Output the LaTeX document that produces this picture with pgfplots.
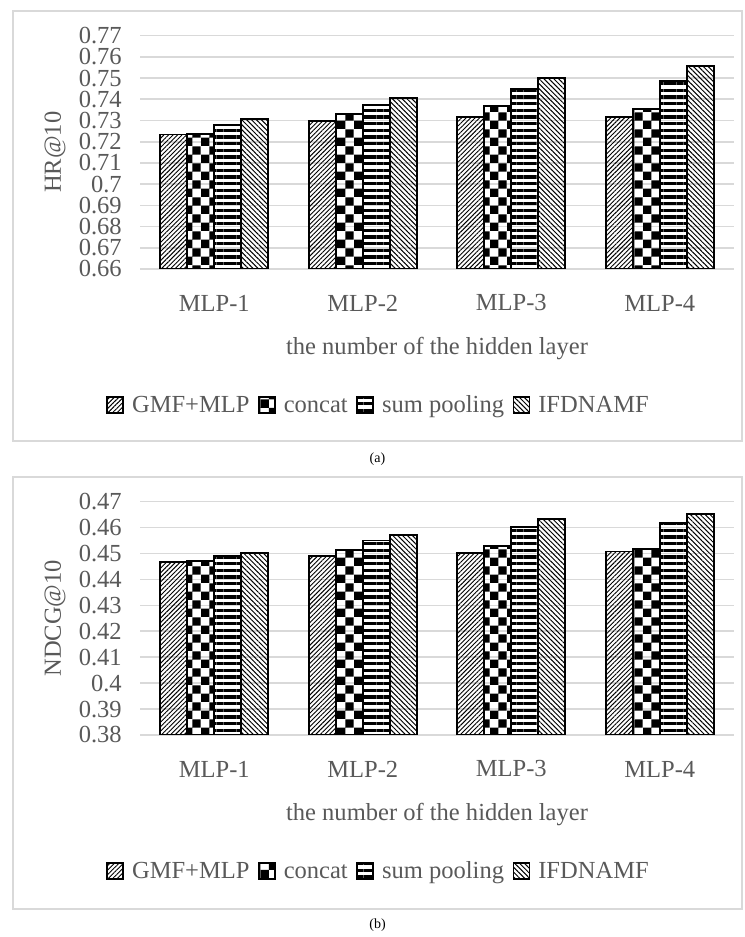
\documentclass[border=0pt]{standalone}
\usepackage{fontspec}
\setmainfont{Liberation Serif}
\usepackage{pgfplots}
\usepackage{pgfplotstable}
\pgfplotsset{compat=1.18}
\usetikzlibrary{patterns,patterns.meta}
\definecolor{txt}{HTML}{595959}
\definecolor{gridc}{HTML}{D9D9D9}

\pgfdeclarepattern{
  name=bigchecker,
  type=uncolored,
  bottom left={\pgfpoint{0pt}{0pt}},
  top right={\pgfpoint{12.6pt}{12.6pt}},
  tile size={\pgfpoint{12.6pt}{12.6pt}},
  code={
    \pgfpathrectangle{\pgfpointorigin}{\pgfpoint{6.3pt}{6.3pt}}
    \pgfpathrectangle{\pgfpoint{6.3pt}{6.3pt}}{\pgfpoint{6.3pt}{6.3pt}}
    \pgfusepath{fill}
  }
}

\pgfplotstableread{
x gmf concat sum ifd
0 0.7234 0.7237 0.7280 0.7307
1 0.7296 0.7329 0.7375 0.7408
2 0.7315 0.7367 0.7450 0.7500
3 0.7318 0.7353 0.7488 0.7556
}\hrdata

\pgfplotstableread{
x gmf concat sum ifd
0 0.4467 0.4471 0.4490 0.4503
1 0.4490 0.4514 0.4550 0.4571
2 0.4503 0.4528 0.4601 0.4633
3 0.4508 0.4517 0.4617 0.4653
}\ndcgdata

\newcommand{\bigfont}{\fontsize{18.4}{18.4}\selectfont}

\pgfplotsset{
  mystyle/.style={
    scale only axis, width=445.5pt, height=175pt,
    ybar=0pt, bar width=20.25pt,
    xmin=-0.5, xmax=3.5, xtick={0,1,2,3},
    xticklabels={MLP-1,MLP-2,MLP-3,MLP-4},
    axis line style={draw=none}, major tick length=0pt,
    ymajorgrids, grid style={gridc, line width=1.2pt},
    tick label style={font=\bigfont, text=txt, inner sep=0pt},
    yticklabel style={anchor=east, xshift=-13.5pt,
      /pgf/number format/fixed, /pgf/number format/precision=2},
    xticklabel style={anchor=center, yshift=-25.5pt},
    /pgf/number format/assume math mode=true,
    scaled y ticks=false,
    ylabel style={at={(axis description cs:-0.143,0.5)}, anchor=center,
      font=\bigfont, text=txt},
    legend style={at={(axis description cs:0.40,-0.587)}, anchor=center,
      draw=none, fill=none, legend columns=-1, font=\bigfont, text=txt,
      nodes={text height=0.68em, text depth=0.22em, inner sep=0pt},
      /tikz/every even column/.append style={column sep=6.5pt},
      /tikz/every odd column/.append style={column sep=6pt}},
    legend image code/.code={\draw[#1, line width=1.2pt] (0pt,-2.5pt) rectangle (12pt,9.5pt);},
  },
  gmfbar/.style={draw=black, line width=1.4pt, pattern={Lines[angle=45,distance=2.4pt,line width=0.7pt]}, pattern color=black},
  catbar/.style={draw=black, line width=1.4pt, pattern=bigchecker, pattern color=black},
  sumbar/.style={draw=black, line width=1.4pt, pattern={Lines[angle=0,distance=5pt,line width=2.3pt]}, pattern color=black},
  ifdbar/.style={draw=black, line width=1.4pt, pattern={Lines[angle=-45,distance=2.6pt,line width=0.75pt]}, pattern color=black},
}

\begin{document}
\begin{tikzpicture}[x=0.75pt,y=0.75pt]
\useasboundingbox (0,0) rectangle (744,937);
% frames
\draw[gridc, line width=1.5pt] (13,496) rectangle (742,926);
\draw[gridc, line width=1.5pt] (13,28) rectangle (742,460);

\begin{axis}[mystyle, at={(105pt,501pt)}, anchor=south west,
  ymin=0.66, ymax=0.77,
  ytick={0.66,0.67,0.68,0.69,0.70,0.71,0.72,0.73,0.74,0.75,0.76,0.77},
  ylabel={HR@10}]
\addplot[gmfbar] table[x=x,y=gmf] {\hrdata};
\addplot[catbar] table[x=x,y=concat] {\hrdata};
\addplot[sumbar] table[x=x,y=sum] {\hrdata};
\addplot[ifdbar] table[x=x,y=ifd] {\hrdata};
\legend{GMF+MLP,concat,sum pooling,IFDNAMF}
\end{axis}

\begin{axis}[mystyle, at={(105pt,151.5pt)}, anchor=south west,
  ymin=0.38, ymax=0.47,
  ytick={0.38,0.39,0.40,0.41,0.42,0.43,0.44,0.45,0.46,0.47},
  ylabel={NDCG@10}]
\addplot[gmfbar] table[x=x,y=gmf] {\ndcgdata};
\addplot[catbar] table[x=x,y=concat] {\ndcgdata};
\addplot[sumbar] table[x=x,y=sum] {\ndcgdata};
\addplot[ifdbar] table[x=x,y=ifd] {\ndcgdata};
\legend{GMF+MLP,concat,sum pooling,IFDNAMF}
\end{axis}

\node[font=\bigfont, text=txt] at (437,588) {the number of the hidden layer};
\node[font=\bigfont, text=txt] at (437,122) {the number of the hidden layer};
\node[font=\fontsize{10.5}{10.5}\selectfont] at (377.5,478) {(a)};
\node[font=\fontsize{10.5}{10.5}\selectfont] at (377.5,12) {(b)};
\end{tikzpicture}
\end{document}
